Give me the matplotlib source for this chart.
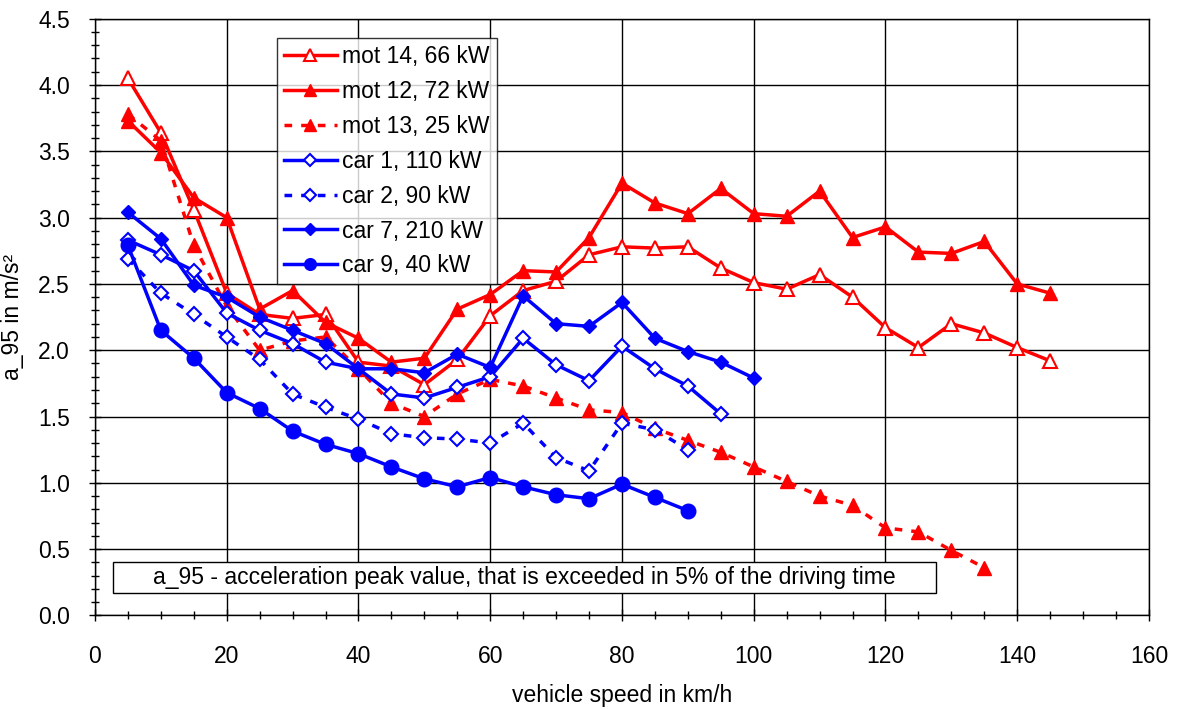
import numpy as np
import matplotlib.pyplot as plt
from matplotlib.patches import Rectangle

plt.rcParams['font.family'] = ['Liberation Sans', 'DejaVu Sans']

# vehicle speed in km/h
speed = [5, 10, 15, 20, 25, 30, 35, 40, 45, 50, 55, 60, 65, 70, 75,
         80, 85, 90, 95, 100, 105, 110, 115, 120, 125, 130, 135, 140, 145]

mot14 = [4.05, 3.64, 3.06, 2.43, 2.27, 2.24, 2.27, 1.91, 1.88, 1.74, 1.93, 2.26, 2.45, 2.52, 2.72,
         2.78, 2.77, 2.78, 2.62, 2.51, 2.46, 2.57, 2.40, 2.17, 2.02, 2.20, 2.13, 2.02, 1.92]
mot12 = [3.73, 3.49, 3.15, 3.00, 2.31, 2.45, 2.21, 2.09, 1.91, 1.94, 2.31, 2.42, 2.60, 2.59, 2.85,
         3.26, 3.11, 3.03, 3.22, 3.03, 3.01, 3.20, 2.85, 2.93, 2.74, 2.73, 2.82, 2.50, 2.43]
mot13 = [3.78, 3.58, 2.79, 2.33, 2.00, 2.07, 2.10, 1.86, 1.60, 1.50, 1.67, 1.78, 1.73, 1.64, 1.55,
         1.53, 1.41, 1.32, 1.23, 1.12, 1.01, 0.90, 0.83, 0.66, 0.63, 0.49, 0.36]
car1 = [2.83, 2.72, 2.60, 2.28, 2.15, 2.05, 1.91, 1.86, 1.67, 1.64, 1.72, 1.80, 2.09, 1.89, 1.77,
        2.03, 1.86, 1.73, 1.52]
car2 = [2.69, 2.43, 2.27, 2.10, 1.93, 1.67, 1.57, 1.48, 1.37, 1.34, 1.33, 1.30, 1.45, 1.19, 1.09,
        1.45, 1.40, 1.25]
car7 = [3.04, 2.84, 2.49, 2.40, 2.25, 2.15, 2.05, 1.86, 1.86, 1.83, 1.97, 1.87, 2.41, 2.20, 2.18,
        2.36, 2.09, 1.99, 1.91, 1.79]
car9 = [2.79, 2.15, 1.94, 1.68, 1.56, 1.39, 1.29, 1.22, 1.12, 1.03, 0.97, 1.04, 0.97, 0.91, 0.88,
        0.99, 0.89, 0.79]

red = '#ff0000'
blue = '#0000ff'
lw = 2.5
fs = 16.5

fig, ax = plt.subplots(figsize=(11.8, 7.09), dpi=100)
fig.subplots_adjust(left=0.0805, right=0.9737, bottom=0.132, top=0.9736)

ax.plot(speed[:len(mot14)], mot14, color=red, lw=lw, marker='^', ms=10.5, mfc='white', mew=1.5,
        label='mot 14, 66 kW')
ax.plot(speed[:len(mot12)], mot12, color=red, lw=lw, marker='^', ms=10.5,
        label='mot 12, 72 kW')
ax.plot(speed[:len(mot13)], mot13, color=red, lw=lw, marker='^', ms=10.5, dashes=(2.2, 2.6),
        label='mot 13, 25 kW')
ax.plot(speed[:len(car1)], car1, color=blue, lw=lw, marker='D', ms=7.5, mfc='white', mew=1.5,
        label='car 1, 110 kW')
ax.plot(speed[:len(car2)], car2, color=blue, lw=lw, marker='D', ms=7.5, mfc='white', mew=1.5,
        dashes=(2.2, 2.6), label='car 2, 90 kW')
ax.plot(speed[:len(car7)], car7, color=blue, lw=lw, marker='D', ms=7.5,
        label='car 7, 210 kW')
ax.plot(speed[:len(car9)], car9, color=blue, lw=lw, marker='o', ms=10.5,
        label='car 9, 40 kW')

ax.set_xlim(0, 160)
ax.set_ylim(0, 4.5)
ax.set_xticks(np.arange(0, 161, 20))
ax.set_xticks(np.arange(0, 161, 5), minor=True)
ax.set_yticks(np.arange(0, 4.51, 0.5))
ax.set_yticks(np.arange(0, 4.51, 0.1), minor=True)
ax.set_yticklabels(['%.1f' % v for v in np.arange(0, 4.51, 0.5)])
ax.tick_params(which='both', direction='inout', labelsize=fs, width=1)
ax.tick_params(which='major', length=8)
ax.tick_params(which='minor', length=6)
ax.tick_params(axis='x', pad=17)
ax.tick_params(axis='y', pad=14)
ax.grid(True, which='major', color='black', lw=1)
for s in ax.spines.values():
    s.set_color('black')
    s.set_linewidth(1)

ax.set_xlabel('vehicle speed in km/h', fontsize=fs, labelpad=12)
ax.set_ylabel('a_95 in m/s²', fontsize=fs, labelpad=10)

leg = ax.legend(loc='upper left', bbox_to_anchor=(0.1727, 0.9676), borderaxespad=0,
                fontsize=fs, frameon=True, fancybox=False, edgecolor='black',
                handlelength=2.3, handletextpad=0.25, labelspacing=0.52,
                borderpad=0.3, markerscale=0.8)
leg.get_frame().set_linewidth(1)
leg.set_zorder(10)

box = Rectangle((0.0168, 0.038), 0.7812, 0.052, transform=ax.transAxes,
                facecolor='white', edgecolor='black', lw=1, zorder=9)
ax.add_patch(box)
ax.text(0.407, 0.064, 'a_95 - acceleration peak value, that is exceeded in 5% of the driving time',
        transform=ax.transAxes, ha='center', va='center', fontsize=fs, zorder=10)

plt.savefig('out.png', dpi=100)
